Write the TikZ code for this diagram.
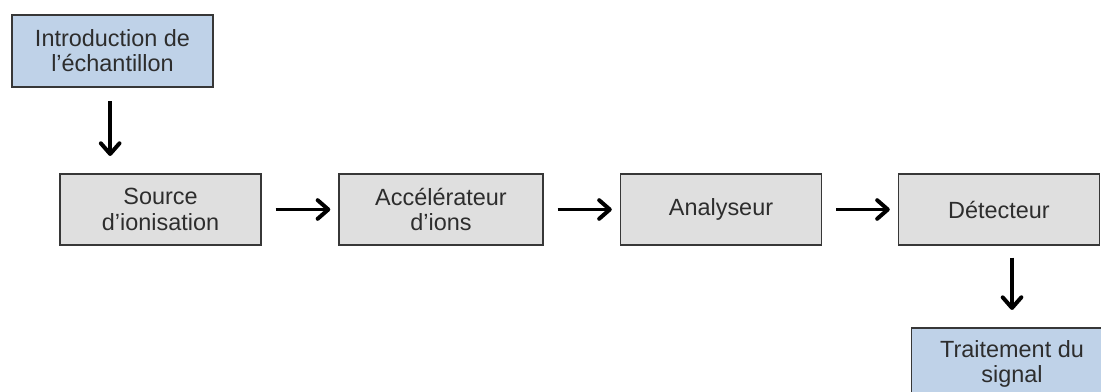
\documentclass[tikz,border=0pt]{standalone}
\usepackage{fontspec}
\setmainfont{Liberation Sans}
\usepackage{tikz}
\usetikzlibrary{arrows.meta}
\usetikzlibrary{positioning}

\definecolor{boxgray}{RGB}{223,223,223}
\definecolor{boxblue}{RGB}{191,210,232}
\definecolor{edgegray}{RGB}{55,55,55}
\definecolor{textgray}{RGB}{45,45,45}

\begin{document}
\begin{tikzpicture}[scale=1,
        stage/.style={draw=edgegray, line width=1.2pt, fill=boxgray, text=textgray,
            minimum width=6.03cm, minimum height=2.13cm, align=center, inner sep=0pt,
            font=\fontsize{20}{21.5}\selectfont},
        endstage/.style={stage, fill=boxblue, minimum height=2.16cm},
        flow/.style={line width=3.4pt, black,
            -{Straight Barb[length=3.2mm, width=5.6mm, line width=3.4pt, round]}},
        flowh/.style={flow, shorten <=0.42cm, shorten >=0.24cm},
        flowv/.style={flow, shorten <=0.4cm, shorten >=0.52cm}]
        \useasboundingbox (0,0) rectangle (33.03,11.76);
        \begin{scope}
        \clip (0,0) rectangle (33.03,11.76);

        \node[endstage] (intro) at (3.375,10.23) {Introduction de\\l’échantillon};

        \node[stage] (source) at (4.815,5.475) {Source\\d’ionisation};
        \node[stage, minimum width=6.12cm] (accel) at (13.23,5.475) {Accélérateur\\d’ions};
        \node[stage] (analyseur) at (21.63,5.475) {Analyseur};
        \node[stage] (detecteur) at (29.97,5.475) {Détecteur};

        \node[endstage] (traitement) at (30.36,0.84) {Traitement du\\signal};

        % chaine de mesure
        \draw[flowv] ([xshift=-0.07cm]intro.south) -- ([xshift=-0.07cm]intro.south |- source.north);
        \draw[flowh] (source) -- (accel);
        \draw[flowh] (accel) -- (analyseur);
        \draw[flowh] (analyseur) -- (detecteur);
        \draw[flowv, shorten <=0.36cm] (traitement.north |- detecteur.south) -- (traitement.north);
        \end{scope}
    \end{tikzpicture}
\end{document}
